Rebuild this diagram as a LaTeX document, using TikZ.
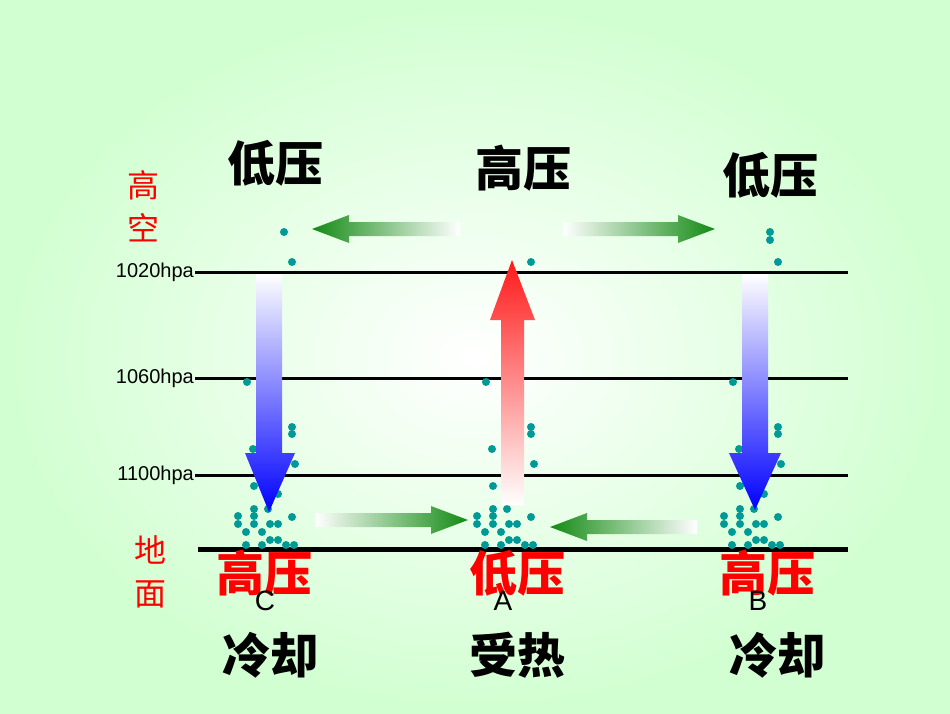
\documentclass[tikz,border=0pt]{standalone}
\usepackage{fontspec}
\setmainfont{Liberation Sans}
\newfontfamily\cjk{Noto Sans CJK SC}
\begin{document}
\begin{tikzpicture}[x=1pt,y=-1pt,
  big/.style={font=\cjk\fontsize{48}{48}\selectfont\bfseries},
  side/.style={font=\cjk\fontsize{32}{32}\selectfont, text=red},
  hpa/.style={font=\fontsize{20}{20}\selectfont, anchor=east, inner sep=1pt},
  lvl/.style={line width=3pt},
  lett/.style={font=\fontsize{28}{28}\selectfont}]
\definecolor{tealdot}{HTML}{009A96}
\definecolor{agreen}{HTML}{138A13}
\shade[inner color=white, outer color=green!18!white] (0,0) rectangle (950,713);
\useasboundingbox (0,0) rectangle (950,713);
% levels
\draw[lvl] (195,272) -- (848,272);
\draw[lvl] (195,378) -- (848,378);
\draw[lvl] (195,475) -- (848,475);
\draw[line width=5pt] (198,549) -- (848,549);
\node[hpa] (h1) at (195,272) {1020hpa};
\node[hpa] (h2) at (195,378) {1060hpa};
\node[hpa] (h3) at (195,475) {1100hpa};
\node[side] (gk1) at (143,185) {高};
\node[side] (gk2) at (143,228) {空};
\node[side] (dm1) at (150,550) {地};
\node[side] (dm2) at (150,594) {面};
% dots
\foreach \ox in {0,239,486}{
  \foreach \x/\y in {247/382,292/427,292/434,253/449,295/464,254/486,278/494,268/509,238/516,254/509,292/517,238/524,254/524,270/524,278/524,246/532,262/532,270/540,278/540,246/545,262/545,286/545,294/545,254/516}
   \fill[tealdot] (\x+\ox,\y) circle (4);
}
\foreach \x/\y in {284/232,292/262,531/262,770/232,770/240,778/262}
  \fill[tealdot] (\x,\y) circle (4);
% green arrows
\shade[left color=agreen, right color=white] (312,229) -- (349,215) -- (349,222) -- (460,222) -- (460,236) -- (349,236) -- (349,243) -- cycle;
\shade[left color=white, right color=agreen] (715,229) -- (678,215) -- (678,222) -- (563,222) -- (563,236) -- (678,236) -- (678,243) -- cycle;
\shade[left color=white, right color=agreen] (468,520) -- (431,506) -- (431,513) -- (315,513) -- (315,527) -- (431,527) -- (431,534) -- cycle;
\shade[left color=agreen, right color=white] (550,527) -- (587,513) -- (587,520) -- (697,520) -- (697,534) -- (587,534) -- (587,541) -- cycle;
% blue arrows
\shade[top color=white, bottom color=blue] (256,274) -- (282,274) -- (282,453) -- (295,453) -- (269,512) -- (245,453) -- (256,453) -- cycle;
\shade[top color=white, bottom color=blue] (742,274) -- (768,274) -- (768,453) -- (781,453) -- (755,510) -- (729,453) -- (742,453) -- cycle;
% red arrow
\shade[top color=red!90!white, bottom color=white] (501,505) -- (524,505) -- (524,320) -- (535,320) -- (512,260) -- (490,320) -- (501,320) -- cycle;
% labels
\node[big] (t1) at (275,163) {低压};
\node[big] (t2) at (523,168) {高压};
\node[big] (t3) at (770,175) {低压};
\node[big, text=red] (b1) at (264,573) {高压};
\node[big, text=red] (b2) at (517,573) {低压};
\node[big, text=red] (b3) at (767,573) {高压};
\node[lett] (lc) at (265,601) {C};
\node[lett] (la) at (503,601) {A};
\node[lett] (lb) at (758,601) {B};
\node[big] (c1) at (270,655) {冷却};
\node[big] (c2) at (517,655) {受热};
\node[big] (c3) at (777,655) {冷却};
\end{tikzpicture}
\end{document}
